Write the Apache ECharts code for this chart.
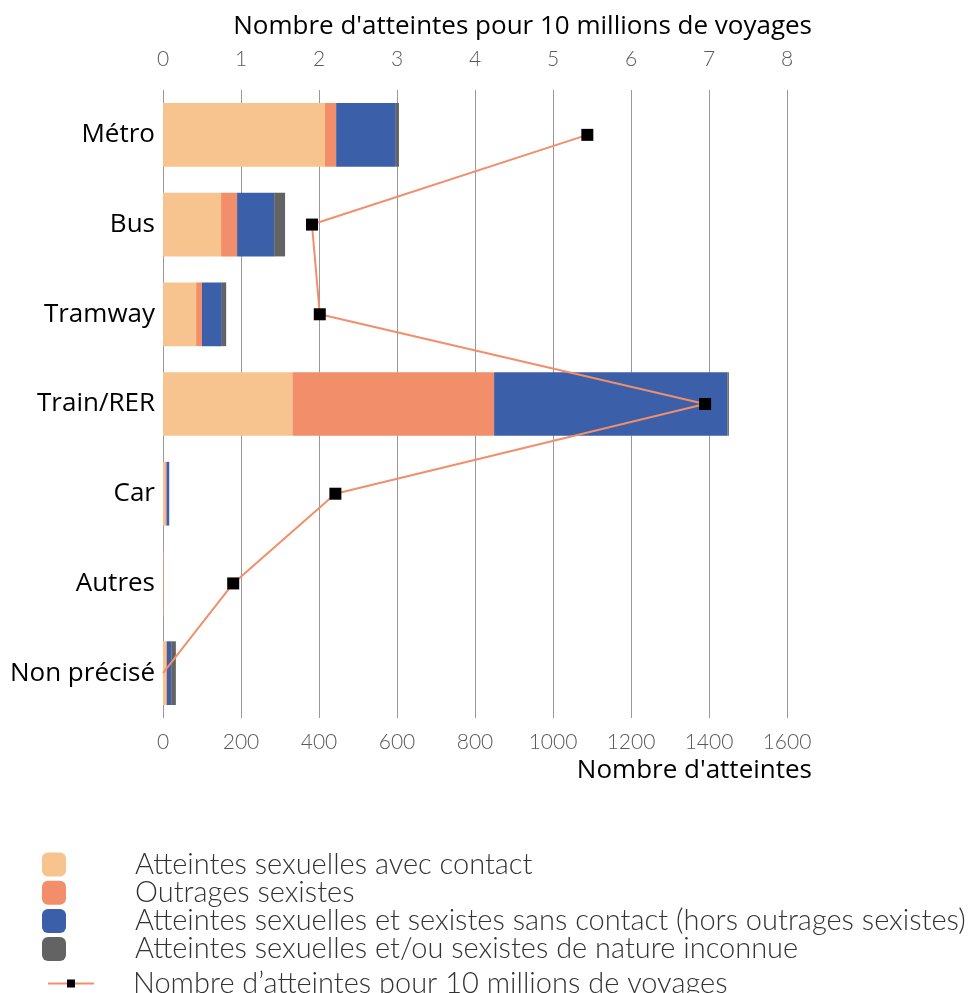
<!DOCTYPE html>
<html><head><meta charset="utf-8">
<script src="https://cdn.jsdelivr.net/npm/echarts@6/dist/echarts.min.js"></script>
<style>html,body{margin:0;padding:0;background:#fff}#c{width:975px;height:993px}</style>
</head><body><div id="c"></div>
<script>
const categories = ['Métro','Bus','Tramway','Train/RER','Car','Autres','Non précisé'];
const avecContact = [415,149,85,332,6,1,8];
const outrages = [29,41,15,517,3,1,2];
const sansContact = [153,95,51,598,7,0,11];
const inconnue = [8,28,11,4,0,0,12];
const pour10M = [5.44,1.91,2.01,6.95,2.21,0.9,0];
const bottomTicks = [0,200,400,600,800,1000,1200,1400,1600];
const topTicks = [0,1,2,3,4,5,6,7,8];

const names = ['Atteintes sexuelles avec contact','Outrages sexistes','Atteintes sexuelles et sexistes sans contact (hors outrages sexistes)','Atteintes sexuelles et/ou sexistes de nature inconnue','Nombre d\u2019atteintes pour 10 millions de voyages'];
const colors = ['#F7C38F','#F28E6A','#3B5FA9','#636363'];
const barData = [avecContact,outrages,sansContact,inconnue];

const chart = echarts.init(document.getElementById('c'));
const tickFont = {fontFamily:'Lato',fontWeight:300,fontSize:21,color:'#595959'};
const legendText = {fontFamily:'Lato',fontWeight:300,fontSize:29,color:'#333',lineHeight:24};
chart.setOption({
  animation:false,
  grid:{left:163,right:188,top:90,bottom:275,containLabel:false},
  legend:[{
    orient:'vertical',left:37,top:845,height:200,itemWidth:24,itemHeight:24,itemGap:-0.8,
    data:names.slice(0,4),
    textStyle:Object.assign({padding:[0,0,0,64]},legendText)
  },{
    orient:'vertical',left:42,top:964,height:100,itemWidth:46,itemHeight:10,
    data:names.slice(4),
    textStyle:Object.assign({padding:[0,0,0,34]},legendText)
  }],
  xAxis:[{
    type:'value',position:'bottom',min:bottomTicks[0],max:bottomTicks[bottomTicks.length-1],interval:200,
    axisLine:{show:false},axisTick:{show:false},
    axisLabel:Object.assign({margin:14,formatter:v=>String(v)},tickFont),
    splitLine:{show:true,lineStyle:{color:'#999',width:1}},
    name:'Nombre d\'atteintes',nameLocation:'end',nameGap:25,
    nameTextStyle:{fontFamily:'Open Sans',fontSize:26,color:'#000',align:'right',verticalAlign:'top',padding:[40,0,0,0]}
  },{
    type:'value',position:'top',min:topTicks[0],max:topTicks[topTicks.length-1],interval:1,
    axisLine:{show:false},axisTick:{show:false},
    axisLabel:Object.assign({margin:20,formatter:v=>String(v)},tickFont),
    splitLine:{show:false},
    name:'Nombre d\'atteintes pour 10 millions de voyages',nameLocation:'end',nameGap:25,
    nameTextStyle:{fontFamily:'Open Sans',fontSize:26,color:'#000',align:'right',verticalAlign:'bottom',padding:[0,0,50,0]}
  }],
  yAxis:{
    type:'category',data:categories,inverse:true,
    axisLine:{show:false},axisTick:{show:false},
    axisLabel:{fontFamily:'Open Sans',fontSize:26,color:'#000',margin:8}
  },
  series:[
    ...barData.map((d,i)=>({
      name:names[i],type:'bar',stack:'total',xAxisIndex:0,data:d,
      barCategoryGap:'29%',itemStyle:{color:colors[i]},
      legendIcon:'roundRect'
    })),
    {
      name:names[4],type:'line',xAxisIndex:1,
      data:pour10M.map((v,i)=> i===pour10M.length-1 ? {value:v,symbolSize:0} : v),
      symbol:'rect',symbolSize:12,
      lineStyle:{color:'#F28E6A',width:2},
      itemStyle:{color:'#000',borderWidth:0},
      z:10
    }
  ]
});
</script></body></html>
